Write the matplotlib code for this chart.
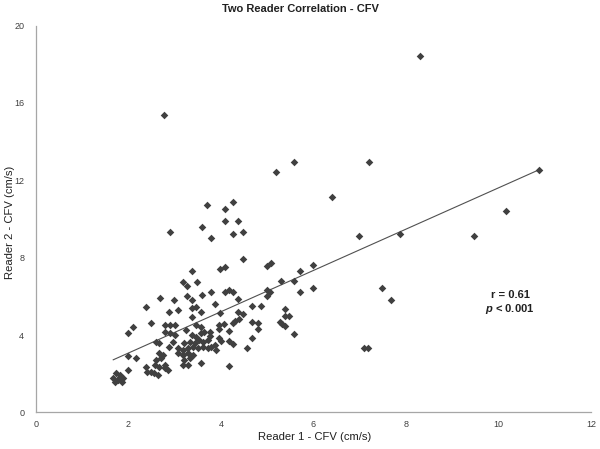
import matplotlib
matplotlib.use("Agg")
import matplotlib.pyplot as plt
from matplotlib import font_manager
import numpy as np

plt.rcParams['font.family'] = ['Liberation Sans', 'DejaVu Sans']
plt.rcParams['mathtext.fontset'] = 'custom'
plt.rcParams['mathtext.it'] = 'Liberation Sans:bold:italic'

# narrow face for the axis titles if there is one
try:
    font_manager.findfont('Liberation Sans Narrow', fallback_to_default=False)
    label_family = ['Liberation Sans Narrow', 'Liberation Sans']
    label_size = 9.5
except Exception:
    label_family = ['Liberation Sans', 'DejaVu Sans']
    label_size = 8.1

# Reader 1 / Reader 2 CFV readings (cm/s)
reader1 = [
    8.30, 2.77, 10.88, 10.17, 9.48, 7.88, 7.48, 7.68, 7.19, 6.40,
    6.98, 5.98, 5.70, 5.70, 5.98, 5.58, 5.19, 5.09, 5.30, 5.58,
    5.38, 5.38, 5.48, 5.28, 5.32, 5.38, 5.58, 7.10, 7.17, 5.06,
    4.27, 4.08, 4.08, 4.37, 3.78, 4.27, 4.47, 4.47, 3.98, 4.08,
    4.99, 3.78, 4.08, 4.18, 4.27, 4.37, 4.99, 4.99, 3.69, 3.58,
    2.89, 3.38, 3.17, 3.48, 3.27, 2.68, 2.98, 3.27, 3.37, 3.58,
    2.38, 2.87, 3.08, 3.37, 3.46, 3.57, 3.37, 3.88, 3.98, 4.67,
    4.86, 4.36, 4.47, 3.96, 4.07, 4.25, 4.31, 4.38, 4.67, 4.79,
    4.79, 3.77, 3.76, 3.96, 4.18, 3.96, 4.00, 4.18, 4.27, 4.67,
    4.57, 3.86, 3.78, 3.89, 4.18, 2.48, 2.78, 2.89, 3.00, 2.09,
    1.98, 2.78, 2.89, 3.00, 3.46, 3.25, 3.57, 3.37, 3.46, 3.57,
    3.64, 2.97, 2.59, 2.67, 3.21, 3.32, 3.43, 3.53, 3.60, 3.71,
    2.87, 3.07, 3.17, 3.28, 3.39, 3.50, 3.60, 3.71, 2.66, 2.74,
    3.07, 3.17, 3.28, 3.39, 1.99, 2.17, 2.60, 2.71, 3.21, 3.32,
    3.57, 2.57, 2.67, 2.78, 3.17, 3.28, 2.37, 1.98, 2.39, 2.49,
    2.56, 2.63, 2.78, 2.85, 1.74, 1.81, 1.67, 1.78, 1.88, 1.70,
    1.85, 1.81,
]
reader2 = [
    18.40, 15.36, 12.52, 10.41, 9.11, 9.22, 6.43, 5.81, 12.93, 11.12,
    9.11, 7.61, 7.33, 6.21, 6.43, 12.93, 12.42, 7.71, 6.81, 6.81,
    5.33, 5.00, 5.00, 4.68, 4.57, 4.49, 4.04, 3.33, 3.33, 6.25,
    10.89, 10.51, 9.91, 9.91, 9.00, 9.22, 9.32, 7.92, 7.42, 7.50,
    7.59, 6.23, 6.22, 6.34, 6.22, 5.84, 6.34, 6.02, 10.72, 9.60,
    9.32, 7.33, 6.76, 6.75, 6.54, 5.94, 5.82, 6.02, 5.83, 6.08,
    5.43, 5.21, 5.29, 5.38, 5.47, 5.19, 4.92, 5.60, 5.12, 5.50,
    5.50, 5.21, 5.09, 4.52, 4.57, 4.61, 4.74, 4.82, 4.69, 4.64,
    4.30, 4.17, 3.94, 4.30, 4.21, 3.84, 3.71, 3.71, 3.53, 3.84,
    3.31, 3.49, 3.40, 3.23, 2.42, 4.64, 4.52, 4.52, 4.52, 4.44,
    4.10, 4.18, 4.10, 4.01, 4.52, 4.27, 4.44, 4.01, 3.92, 4.10,
    4.18, 3.65, 3.65, 3.57, 3.57, 3.65, 3.57, 3.75, 3.65, 3.75,
    3.40, 3.31, 3.23, 3.31, 3.40, 3.31, 3.40, 3.31, 3.06, 2.97,
    3.06, 2.97, 3.06, 2.97, 2.93, 2.80, 2.71, 2.80, 2.71, 2.80,
    2.54, 2.45, 2.37, 2.45, 2.45, 2.45, 2.37, 2.20, 2.11, 2.11,
    2.03, 1.94, 2.28, 2.20, 2.03, 1.94, 1.77, 1.68, 1.77, 1.60,
    1.60, 1.86,
]

x_ticks = [0, 2, 4, 6, 8, 10, 12]
y_ticks = [0, 4, 8, 12, 16, 20]
stats_lines = ["r = 0.61", "$p$ < 0.001"]

x = np.array(reader1)
y = np.array(reader2)

fig = plt.figure(figsize=(6, 4.49), dpi=100)
ax = fig.add_axes([0.06, 0.0813, 0.925, 0.8619])

ax.scatter(x, y, marker='D', s=15, color='#404040', linewidths=0, zorder=3)

# linear trendline (Excel style)
slope, icpt = np.polyfit(x, y, 1)
xl = np.array([x.min(), x.max()])
ax.plot(xl, slope * xl + icpt, color='#505050', lw=0.8, zorder=2)

ax.set_xlim(0, 12)
ax.set_ylim(0, 20)
ax.set_xticks(x_ticks)
ax.set_yticks(y_ticks)
ax.tick_params(length=0, labelsize=6.5, labelcolor='#404040')
ax.tick_params(axis='x', pad=5.5)
ax.tick_params(axis='y', pad=8.5)
for s in ['top', 'right']:
    ax.spines[s].set_visible(False)
for s in ['left', 'bottom']:
    ax.spines[s].set_color('#a6a6a6')
    ax.spines[s].set_linewidth(0.9)

fig.text(0.524, 0.027, "Reader 1 - CFV (cm/s)", ha='center', va='center',
         fontsize=label_size, family=label_family, color='#202020')
fig.text(0.016, 0.505, "Reader 2 - CFV (cm/s)", ha='center', va='center',
         rotation=90, fontsize=label_size, family=label_family, color='#202020')
fig.text(0.5, 0.98, "Two Reader Correlation - CFV", ha='center', va='center',
         fontsize=8, fontweight='bold', color='#202020')

ax.text(10.25, 6.07, stats_lines[0], ha='center', va='center', fontsize=8,
        fontweight='bold', color='#202020')
ax.text(10.25, 5.35, stats_lines[1], ha='center', va='center', fontsize=8,
        fontweight='bold', color='#202020')

fig.savefig("out.png", dpi=100)
